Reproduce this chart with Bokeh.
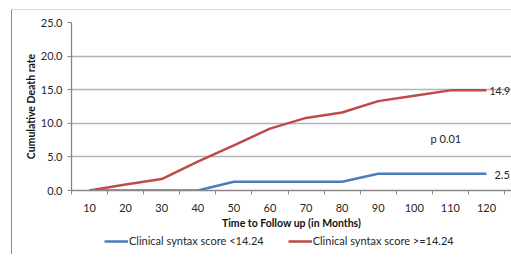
from bokeh.plotting import figure
from bokeh.layouts import column
from bokeh.models import FixedTicker, Range1d, Legend, LegendItem, Label, NumeralTickFormatter
from bokeh.embed import file_html
from bokeh.resources import INLINE

months = [10, 20, 30, 40, 50, 60, 70, 80, 90, 100, 110, 120]
low_score = [0, 0, 0, 0, 1.3, 1.3, 1.3, 1.3, 2.5, 2.5, 2.5, 2.5]
high_score = [0, 0.9, 1.7, 4.3, 6.7, 9.2, 10.8, 11.6, 13.3, 14.1, 14.9, 14.9]
low_name = "Clinical syntax score <14.24"
high_name = "Clinical syntax score >=14.24"
end_labels = ["2.5", "14.9"]
p_text = "p 0.01"
p_pos = (104.5, 7.8)
y_ticks = [0, 5, 10, 15, 20, 25]

FONT = "Lato"
BLUE = "#4A7EBB"
RED = "#BE4B48"
TXT = "#262626"

# frame: x 5..125 spans 433 px; extra room on the right for end labels
x_end = 125 + 7 * 120 / 433

p = figure(width=499, height=224, output_backend="svg", toolbar_location=None,
           x_range=Range1d(5, x_end), y_range=Range1d(0, 25),
           min_border_left=59, min_border_right=0, min_border_top=12, min_border_bottom=44)
p.outline_line_color = None
p.background_fill_color = None
p.border_fill_color = None
p.xgrid.grid_line_color = None
p.ygrid.grid_line_color = "#b3b3b3"
p.ygrid.grid_line_width = 1.3

p.xaxis.ticker = FixedTicker(ticks=months, minor_ticks=[m - 5 for m in months] + [months[-1] + 5])
p.xaxis.major_tick_line_color = None
p.xaxis.minor_tick_line_color = "#888888"
p.xaxis.minor_tick_in = 0
p.xaxis.minor_tick_out = 4
p.xaxis.axis_line_color = "#888888"
p.xaxis.axis_line_width = 1.3
p.xaxis.axis_label = "Time to Follow up (in Months)"
p.xaxis.major_label_standoff = 7

p.yaxis.ticker = FixedTicker(ticks=y_ticks, minor_ticks=[])
p.yaxis.formatter = NumeralTickFormatter(format="0.0")
p.yaxis.major_tick_line_color = "#888888"
p.yaxis.major_tick_in = 0
p.yaxis.major_tick_out = 4
p.yaxis.axis_line_color = "#888888"
p.yaxis.axis_line_width = 1.3
p.yaxis.axis_label = "Cumulative Death rate"

for ax in (p.xaxis, p.yaxis):
    ax.major_label_text_font = FONT
    ax.major_label_text_font_size = "11px"
    ax.major_label_text_color = TXT
    ax.axis_label_text_font = FONT
    ax.axis_label_text_font_size = "10.5px"
    ax.axis_label_text_font_style = "bold"
    ax.axis_label_text_color = "#111111"
p.xaxis.axis_label_standoff = 2
p.yaxis.axis_label_standoff = 1

r1 = p.line(months, low_score, line_color=BLUE, line_width=2.5)
r2 = p.line(months, high_score, line_color=RED, line_width=2.5)

p.add_layout(Label(x=months[-1], y=low_score[-1], text=end_labels[0], x_offset=8, y_offset=-1,
                   text_baseline="middle", text_font=FONT, text_font_size="11px", text_color=TXT))
p.add_layout(Label(x=months[-1], y=high_score[-1], text=end_labels[1], x_offset=3, y_offset=-1,
                   text_baseline="middle", text_font=FONT, text_font_size="10.5px", text_color=TXT))
p.add_layout(Label(x=p_pos[0], y=p_pos[1], text=p_text, text_baseline="middle",
                   text_font=FONT, text_font_size="11px", text_color=TXT))

# legend strip below the chart
lg = figure(width=499, height=20, output_backend="svg", toolbar_location=None,
            x_range=Range1d(1000, 1001), y_range=Range1d(1000, 1001),
            x_axis_type=None, y_axis_type=None,
            min_border_left=0, min_border_right=0, min_border_top=0, min_border_bottom=0)
lg.outline_line_color = None
lg.background_fill_color = None
lg.border_fill_color = None
lg.grid.grid_line_color = None
l1 = lg.line(months, low_score, line_color=BLUE, line_width=2.5)
l2 = lg.line(months, high_score, line_color=RED, line_width=2.5)
legend = Legend(items=[LegendItem(label=low_name, renderers=[l1]),
                       LegendItem(label=high_name, renderers=[l2])],
                orientation="horizontal", location=(33, 7),
                label_text_font=FONT, label_text_font_size="11px", label_text_color=TXT,
                glyph_width=24, glyph_height=10, label_standoff=1, spacing=24,
                border_line_color=None, background_fill_alpha=0, padding=0, margin=0)
lg.add_layout(legend, "center")

layout = column(p, lg, margin=(9, 0, 0, 11), spacing=0,
                styles={"border-left": "1px solid #8c8c8c", "border-top": "1px solid #d9d9d9"})

open("out.html", "w").write(file_html(layout, INLINE))
